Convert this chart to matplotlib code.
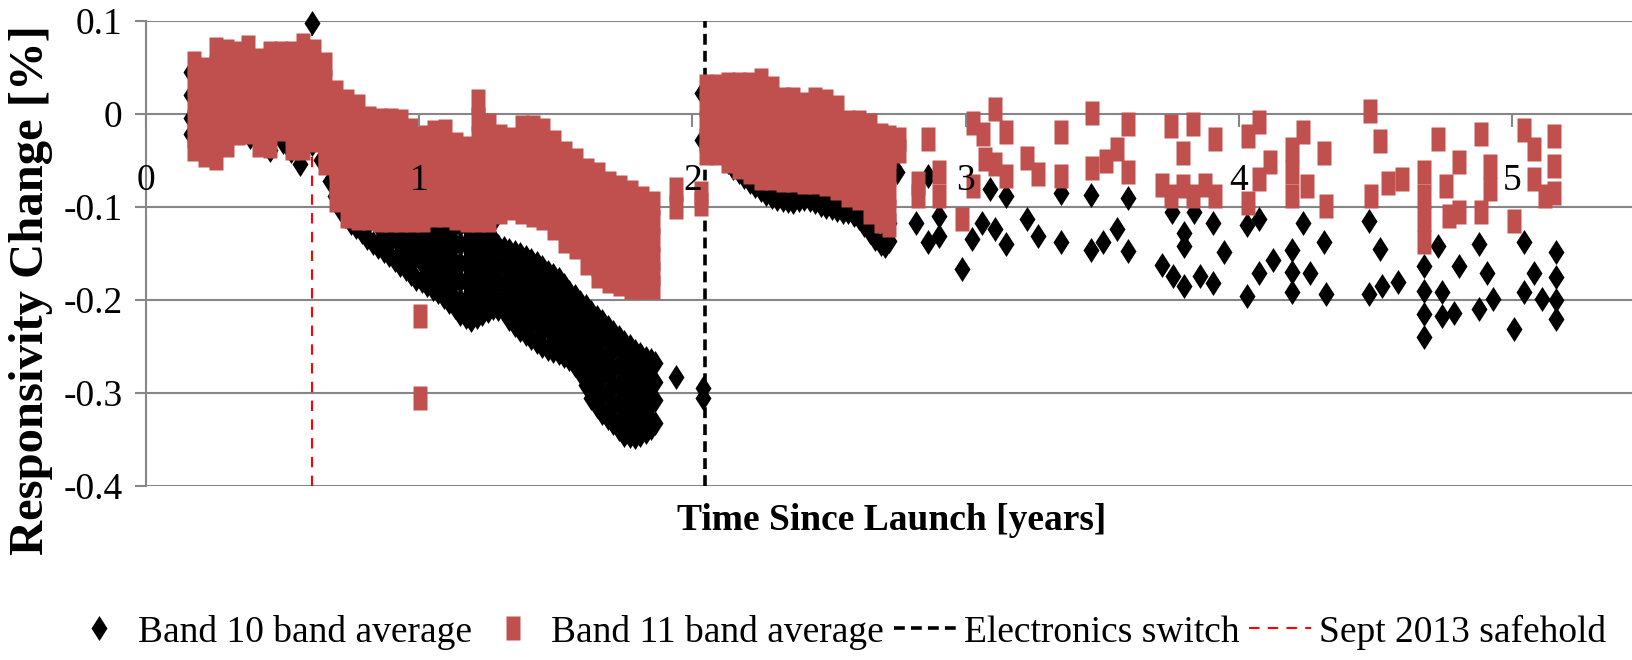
import matplotlib
matplotlib.use("Agg")
import matplotlib.pyplot as plt

plt.rcParams["font.family"] = ["Liberation Serif", "DejaVu Serif"]

# Band 11 (12 um) band averages: (years since launch, [% change of scenes on that date])
b11_before = [
    (0.175, [0.055, 0.034, 0.013, -0.008, -0.024, -0.038]),
    (0.215, [0.048, 0.028, 0.008, -0.012, -0.030, -0.044]),
    (0.255, [0.070, 0.050, 0.030, 0.010, -0.010, -0.030, -0.048]),
    (0.295, [0.068, 0.048, 0.028, 0.008, -0.012, -0.033]),
    (0.335, [0.065, 0.044, 0.023, 0.002, -0.021]),
    (0.375, [0.072, 0.052, 0.032, 0.012, -0.006, -0.019]),
    (0.415, [0.058, 0.038, 0.018, -0.002, -0.018, -0.033]),
    (0.455, [0.065, 0.045, 0.025, 0.005, -0.015, -0.035]),
    (0.495, [0.065, 0.045, 0.025, 0.005, -0.016]),
    (0.535, [0.065, 0.045, 0.025, 0.005, -0.015, -0.037]),
    (0.575, [0.074, 0.054, 0.034, 0.014, -0.006, -0.024, -0.037]),
    (0.615, [0.068, 0.048, 0.028, 0.008, -0.012, -0.028]),
    (0.655, [0.054, 0.034, 0.014, -0.006, -0.026, -0.044, -0.053]),
    (0.695, [0.023, 0.003, -0.017, -0.037, -0.057, -0.077, -0.093]),
    (0.735, [0.014, -0.006, -0.026, -0.046, -0.066, -0.086, -0.110]),
    (0.775, [0.008, -0.012, -0.032, -0.052, -0.072, -0.092, -0.112]),
    (0.815, [-0.005, -0.025, -0.045, -0.065, -0.085, -0.100, -0.112]),
    (0.855, [-0.007, -0.027, -0.047, -0.067, -0.087, -0.100, -0.114]),
    (0.895, [-0.007, -0.027, -0.047, -0.067, -0.087, -0.102, -0.114]),
    (0.935, [-0.008, -0.028, -0.048, -0.068, -0.088, -0.104, -0.114]),
    (0.975, [-0.017, -0.037, -0.057, -0.077, -0.097, -0.114]),
    (1.003, [-0.217, -0.305]),
    (1.015, [-0.025, -0.045, -0.065, -0.085, -0.100, -0.114]),
    (1.055, [-0.020, -0.040, -0.060, -0.080, -0.096, -0.109]),
    (1.095, [-0.018, -0.038, -0.058, -0.078, -0.094, -0.109]),
    (1.135, [-0.032, -0.052, -0.072, -0.092, -0.112]),
    (1.175, [-0.037, -0.057, -0.077, -0.096, -0.114]),
    (1.215, [0.014, -0.006, -0.026, -0.046, -0.066, -0.086, -0.100, -0.114]),
    (1.255, [-0.012, -0.032, -0.052, -0.072, -0.092, -0.114]),
    (1.295, [-0.024, -0.044, -0.064, -0.084, -0.106]),
    (1.335, [-0.027, -0.047, -0.067, -0.085, -0.101]),
    (1.375, [-0.014, -0.034, -0.054, -0.074, -0.090, -0.106]),
    (1.415, [-0.014, -0.034, -0.054, -0.074, -0.092, -0.109]),
    (1.455, [-0.017, -0.037, -0.057, -0.077, -0.095, -0.112]),
    (1.495, [-0.030, -0.050, -0.070, -0.090, -0.108, -0.123]),
    (1.535, [-0.042, -0.062, -0.082, -0.102, -0.120, -0.137]),
    (1.575, [-0.050, -0.070, -0.090, -0.110, -0.128, -0.143]),
    (1.615, [-0.060, -0.080, -0.100, -0.120, -0.140, -0.160]),
    (1.655, [-0.065, -0.085, -0.105, -0.125, -0.145, -0.162, -0.174]),
    (1.695, [-0.074, -0.094, -0.114, -0.134, -0.154, -0.170, -0.180]),
    (1.735, [-0.079, -0.099, -0.119, -0.139, -0.159, -0.175, -0.183]),
    (1.775, [-0.084, -0.104, -0.124, -0.144, -0.164, -0.186]),
    (1.815, [-0.090, -0.110, -0.130, -0.150, -0.170, -0.186]),
    (1.855, [-0.096, -0.116, -0.136, -0.156, -0.172, -0.186]),
    (1.940, [-0.081, -0.100]),
    (2.030, [-0.085, -0.097]),
]

b11_after = [
    (2.05, [0.030, 0.010, -0.010, -0.028, -0.042]),
    (2.09, [0.030, 0.010, -0.010, -0.028, -0.042]),
    (2.13, [0.032, 0.012, -0.008, -0.028, -0.051]),
    (2.17, [0.032, 0.012, -0.008, -0.028, -0.045, -0.057]),
    (2.21, [0.032, 0.012, -0.008, -0.028, -0.046, -0.062]),
    (2.25, [0.036, 0.016, -0.004, -0.024, -0.044, -0.060, -0.069]),
    (2.29, [0.028, 0.008, -0.012, -0.032, -0.052, -0.069]),
    (2.33, [0.016, -0.004, -0.024, -0.044, -0.060, -0.071]),
    (2.37, [0.016, -0.004, -0.024, -0.044, -0.060, -0.071]),
    (2.41, [0.011, -0.009, -0.029, -0.049, -0.065, -0.073]),
    (2.45, [0.016, -0.004, -0.024, -0.044, -0.060, -0.073]),
    (2.49, [0.014, -0.006, -0.026, -0.046, -0.062, -0.075]),
    (2.53, [0.007, -0.013, -0.033, -0.053, -0.070, -0.080]),
    (2.57, [-0.009, -0.029, -0.049, -0.069, -0.087]),
    (2.61, [-0.009, -0.029, -0.049, -0.069, -0.090]),
    (2.65, [-0.012, -0.032, -0.052, -0.072, -0.090, -0.105]),
    (2.69, [-0.023, -0.043, -0.063, -0.083, -0.100, -0.115]),
    (2.72, [-0.025, -0.045, -0.065, -0.085, -0.104, -0.119]),
    (2.755, [-0.027, -0.040]),
    (2.827, [-0.074, -0.088]),
    (2.863, [-0.027]),
    (2.903, [-0.063, -0.088]),
    (2.986, [-0.113]),
    (3.028, [-0.010, -0.078]),
    (3.065, [-0.022]),
    (3.07, [-0.049]),
    (3.108, [0.005, -0.054]),
    (3.15, [-0.020, -0.067]),
    (3.224, [-0.047]),
    (3.266, [-0.065]),
    (3.35, [-0.020, -0.067]),
    (3.464, [0.001, -0.058]),
    (3.516, [-0.051]),
    (3.553, [-0.038]),
    (3.595, [-0.011, -0.063]),
    (3.718, [-0.076]),
    (3.752, [-0.013, -0.088]),
    (3.797, [-0.042, -0.078]),
    (3.834, [-0.011, -0.088]),
    (3.877, [-0.076]),
    (3.914, [-0.027, -0.088]),
    (4.034, [-0.024, -0.096]),
    (4.075, [-0.009, -0.070]),
    (4.113, [-0.052]),
    (4.195, [-0.038, -0.063, -0.088]),
    (4.237, [-0.020]),
    (4.25, [-0.078]),
    (4.312, [-0.042]),
    (4.318, [-0.099]),
    (4.479, [0.003]),
    (4.486, [-0.088]),
    (4.517, [-0.029]),
    (4.548, [-0.074]),
    (4.597, [-0.070]),
    (4.678, [-0.063, -0.088, -0.113, -0.138]),
    (4.728, [-0.027]),
    (4.759, [-0.078]),
    (4.77, [-0.110]),
    (4.806, [-0.052, -0.106]),
    (4.889, [-0.022, -0.106]),
    (4.92, [-0.056, -0.081]),
    (5.007, [-0.115]),
    (5.045, [-0.017]),
    (5.082, [-0.038, -0.070]),
    (5.12, [-0.088]),
    (5.156, [-0.024, -0.056, -0.085]),
]

# Band 10 (11 um) band averages
b10_before = [
    (0.165, [0.045, 0.020, -0.005, -0.022]),
    (0.38, [-0.025]),
    (0.42, [-0.030]),
    (0.454, [-0.039]),
    (0.50, [-0.030]),
    (0.53, [-0.040]),
    (0.564, [-0.054]),
    (0.606, [0.098, -0.032]),
    (0.64, [-0.050]),
    (0.675, [-0.072]),
    (0.69, [-0.088]),
    (0.71, [-0.090, -0.102]),
    (0.73, [-0.100, -0.110]),
    (0.75, [-0.100, -0.117]),
    (0.77, [-0.112, -0.122]),
    (0.79, [-0.105, -0.127]),
    (0.81, [-0.120, -0.133]),
    (0.83, [-0.110, -0.139]),
    (0.85, [-0.120, -0.140, -0.143]),
    (0.87, [-0.110, -0.130, -0.147]),
    (0.89, [-0.120, -0.140, -0.152]),
    (0.91, [-0.110, -0.130, -0.157]),
    (0.93, [-0.120, -0.140, -0.160, -0.162]),
    (0.95, [-0.110, -0.130, -0.150, -0.167]),
    (0.97, [-0.120, -0.140, -0.160, -0.172]),
    (0.99, [-0.110, -0.130, -0.150, -0.177]),
    (1.01, [-0.120, -0.140, -0.160, -0.180]),
    (1.03, [-0.110, -0.130, -0.150, -0.170, -0.184]),
    (1.05, [-0.120, -0.140, -0.160, -0.180, -0.188]),
    (1.07, [-0.110, -0.130, -0.150, -0.170, -0.192]),
    (1.09, [-0.120, -0.140, -0.160, -0.180, -0.197]),
    (1.11, [-0.110, -0.130, -0.150, -0.170, -0.190, -0.202]),
    (1.13, [-0.120, -0.140, -0.160, -0.180, -0.200, -0.208]),
    (1.15, [-0.120, -0.140, -0.160, -0.180, -0.200, -0.215]),
    (1.17, [-0.120, -0.140, -0.160, -0.180, -0.200, -0.218]),
    (1.19, [-0.110, -0.130, -0.150, -0.170, -0.190, -0.210, -0.222]),
    (1.21, [-0.120, -0.140, -0.160, -0.180, -0.200, -0.218]),
    (1.23, [-0.110, -0.130, -0.150, -0.170, -0.190, -0.215]),
    (1.25, [-0.120, -0.140, -0.160, -0.180, -0.200, -0.212]),
    (1.27, [-0.115, -0.135, -0.155, -0.175, -0.195, -0.209]),
    (1.29, [-0.142, -0.160, -0.180, -0.200, -0.210]),
    (1.31, [-0.144, -0.164, -0.184, -0.200, -0.212]),
    (1.33, [-0.146, -0.156, -0.176, -0.196, -0.216, -0.220]),
    (1.35, [-0.148, -0.168, -0.188, -0.208, -0.227]),
    (1.37, [-0.151, -0.161, -0.181, -0.201, -0.221, -0.232]),
    (1.39, [-0.154, -0.174, -0.194, -0.214, -0.237]),
    (1.41, [-0.157, -0.167, -0.187, -0.207, -0.227, -0.241]),
    (1.43, [-0.160, -0.180, -0.200, -0.220, -0.245]),
    (1.45, [-0.165, -0.175, -0.195, -0.215, -0.235, -0.249]),
    (1.47, [-0.170, -0.190, -0.210, -0.230, -0.253]),
    (1.49, [-0.173, -0.183, -0.203, -0.223, -0.243, -0.255]),
    (1.51, [-0.177, -0.197, -0.217, -0.237, -0.257]),
    (1.53, [-0.184, -0.194, -0.214, -0.234, -0.254, -0.260]),
    (1.55, [-0.191, -0.211, -0.231, -0.251, -0.263]),
    (1.57, [-0.196, -0.206, -0.226, -0.246, -0.266, -0.270]),
    (1.59, [-0.202, -0.222, -0.242, -0.262, -0.277]),
    (1.61, [-0.207, -0.217, -0.237, -0.257, -0.277, -0.291]),
    (1.63, [-0.213, -0.233, -0.253, -0.273, -0.293, -0.305]),
    (1.65, [-0.218, -0.228, -0.248, -0.268, -0.288, -0.308, -0.314]),
    (1.67, [-0.223, -0.243, -0.263, -0.283, -0.303, -0.322]),
    (1.69, [-0.229, -0.239, -0.259, -0.279, -0.299, -0.319, -0.327]),
    (1.71, [-0.234, -0.254, -0.274, -0.294, -0.314, -0.332]),
    (1.73, [-0.240, -0.250, -0.270, -0.290, -0.310, -0.330, -0.339]),
    (1.75, [-0.245, -0.265, -0.285, -0.305, -0.325, -0.345]),
    (1.77, [-0.250, -0.260, -0.280, -0.300, -0.320, -0.340, -0.346]),
    (1.79, [-0.255, -0.275, -0.295, -0.315, -0.335, -0.347]),
    (1.81, [-0.258, -0.268, -0.288, -0.308, -0.328, -0.345]),
    (1.83, [-0.262, -0.282, -0.302, -0.322, -0.342]),
    (1.85, [-0.265, -0.272, -0.292, -0.312, -0.332, -0.338]),
    (1.865, [-0.268, -0.288, -0.308, -0.332]),
    (1.94, [-0.283]),
    (2.04, [-0.295, -0.305]),
]

b10_after = [
    (2.035, [0.022, -0.028]),
    (2.13, [-0.045, -0.052]),
    (2.15, [-0.048, -0.058]),
    (2.17, [-0.050, -0.063]),
    (2.19, [-0.055, -0.068]),
    (2.21, [-0.055, -0.073]),
    (2.23, [-0.062, -0.078]),
    (2.25, [-0.065, -0.082]),
    (2.27, [-0.070, -0.086]),
    (2.29, [-0.070, -0.089]),
    (2.31, [-0.075, -0.091]),
    (2.33, [-0.072, -0.093]),
    (2.35, [-0.078, -0.094]),
    (2.37, [-0.075, -0.095]),
    (2.39, [-0.080, -0.093]),
    (2.41, [-0.075, -0.091]),
    (2.43, [-0.080, -0.093]),
    (2.45, [-0.078, -0.095]),
    (2.47, [-0.083, -0.098]),
    (2.49, [-0.080, -0.100]),
    (2.51, [-0.088, -0.101]),
    (2.53, [-0.085, -0.103]),
    (2.55, [-0.092, -0.105]),
    (2.57, [-0.090, -0.106]),
    (2.59, [-0.097, -0.109]),
    (2.61, [-0.095, -0.112]),
    (2.63, [-0.105, -0.120]),
    (2.65, [-0.105, -0.127]),
    (2.67, [-0.115, -0.134]),
    (2.69, [-0.115, -0.140]),
    (2.705, [-0.122, -0.142]),
    (2.72, [-0.117, -0.137]),
    (2.75, [-0.062]),
    (2.82, [-0.117]),
    (2.863, [-0.067, -0.138]),
    (2.903, [-0.110, -0.131]),
    (2.986, [-0.167]),
    (3.022, [-0.135]),
    (3.059, [-0.117]),
    (3.09, [-0.081]),
    (3.108, [-0.124]),
    (3.147, [-0.088, -0.140]),
    (3.224, [-0.113]),
    (3.266, [-0.131]),
    (3.349, [-0.085, -0.138]),
    (3.461, [-0.087, -0.146]),
    (3.503, [-0.138]),
    (3.553, [-0.124]),
    (3.595, [-0.090, -0.147]),
    (3.718, [-0.162]),
    (3.755, [-0.105]),
    (3.76, [-0.174]),
    (3.80, [-0.128, -0.142, -0.185]),
    (3.838, [-0.105]),
    (3.857, [-0.174]),
    (3.907, [-0.117, -0.182]),
    (3.946, [-0.149]),
    (4.032, [-0.120, -0.196]),
    (4.075, [-0.113, -0.171]),
    (4.125, [-0.157]),
    (4.195, [-0.146, -0.170, -0.192]),
    (4.237, [-0.117]),
    (4.262, [-0.171]),
    (4.312, [-0.138]),
    (4.318, [-0.194]),
    (4.478, [-0.115, -0.194]),
    (4.517, [-0.145]),
    (4.523, [-0.185]),
    (4.585, [-0.181]),
    (4.678, [-0.164, -0.190, -0.215, -0.240]),
    (4.73, [-0.142]),
    (4.745, [-0.192, -0.217]),
    (4.79, [-0.214]),
    (4.806, [-0.164]),
    (4.88, [-0.140, -0.210]),
    (4.91, [-0.171]),
    (4.93, [-0.199]),
    (5.007, [-0.231]),
    (5.045, [-0.138, -0.192]),
    (5.082, [-0.171]),
    (5.11, [-0.199]),
    (5.16, [-0.149, -0.175, -0.200, -0.220]),
]

switch_year = 2.045
safehold_year = 0.606

x_ticks = [0, 1, 2, 3, 4, 5]
y_ticks = [0.1, 0, -0.1, -0.2, -0.3, -0.4]
y_labels = ["0.1", "0", "-0.1", "-0.2", "-0.3", "-0.4"]

GRID = "#868686"
RED = "#C0504D"


def flatten(*groups):
    xs, ys = [], []
    for group in groups:
        for t, vals in group:
            xs.extend([t] * len(vals))
            ys.extend(vals)
    return xs, ys


x10, y10 = flatten(b10_before, b10_after)
x11, y11 = flatten(b11_before, b11_after)

# tall markers, like the stretched Excel ones
diamond = [(0, 1), (0.64, 0), (0, -1), (-0.64, 0), (0, 1)]
square = [(-0.65, -1), (0.65, -1), (0.65, 1), (-0.65, 1), (-0.65, -1)]

fig = plt.figure(figsize=(16.32, 6.6), dpi=100)
ax = fig.add_axes([0.0895, 0.2636, 0.9105, 0.7049])
ax.set_xlim(0, 5.44)
ax.set_ylim(-0.4, 0.1)

for y in y_ticks:
    ax.axhline(y, color=GRID, lw=1.5, zorder=0.5)

sw = ax.axvline(switch_year, color="black", lw=2.6, ls=(0, (3, 1.7)), zorder=1)
sh = ax.axvline(safehold_year, color="#FF0000", lw=1.5, ls=(0, (5, 4)), zorder=1)

h10, = ax.plot(x10, y10, ls="none", marker=diamond, ms=18, mfc="black",
               mec="none", zorder=2, clip_on=False)
h11, = ax.plot(x11, y11, ls="none", marker=square, ms=16.6, mfc=RED,
               mec="none", zorder=3, clip_on=False)

for side in ["top", "right"]:
    ax.spines[side].set_visible(False)
ax.spines["bottom"].set_position(("data", 0))
ax.spines["bottom"].set_visible(False)
ax.spines["left"].set_color(GRID)
ax.spines["left"].set_linewidth(1.5)

ax.set_yticks(y_ticks)
ax.set_yticklabels(y_labels)
ax.set_xticks(x_ticks)
ax.set_xticklabels([str(v) for v in x_ticks])
ax.tick_params(axis="y", direction="out", length=8, width=1.5, color=GRID,
               pad=9, labelsize=27)
ax.tick_params(axis="x", direction="out", length=9, width=1.5, color=GRID,
               pad=27, labelsize=27)
ax.xaxis.set_zorder(5)

fig.text(31 / 1632, 1 - 290 / 660, "Responsivity Change [%]", rotation=90,
         ha="center", va="center", fontsize=35, fontweight="bold")
fig.text(892 / 1632, 1 - 520 / 660, "Time Since Launch [years]",
         ha="center", va="center", fontsize=27, fontweight="bold")

fig.legend([h10, h11, sw, sh],
           ["Band 10 band average", "Band 11 band average",
            "Electronics switch", "Sept 2013 safehold"],
           loc="center", bbox_to_anchor=(0.513, 0.0424), ncol=4,
           frameon=False, fontsize=27, handlelength=1.65,
           handletextpad=0.2, columnspacing=0.27, borderpad=0,
           borderaxespad=0)

fig.savefig("out.png", dpi=100)
